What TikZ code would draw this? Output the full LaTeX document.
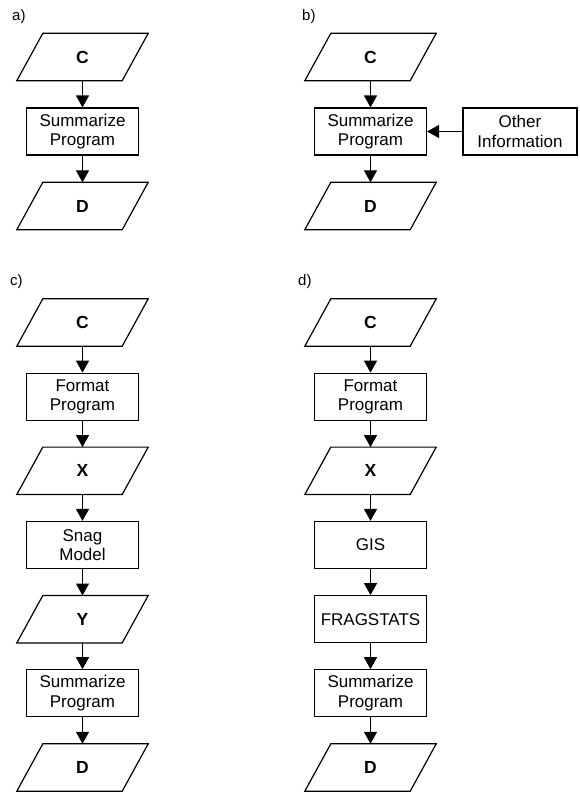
\documentclass[tikz,border=0pt]{standalone}
\usepackage{fontspec}
\setmainfont{Liberation Sans}
\usetikzlibrary{arrows.meta}

% slanted data box drawn around a named (invisible) rectangle node
\newcommand\slantbox[1]{%
  \draw[line width=1.2pt]
    ([xshift=13pt]#1.north west) -- ([xshift=13pt]#1.north east) --
    ([xshift=-13pt]#1.south east) -- ([xshift=-13pt]#1.south west) -- cycle;}

\begin{document}
\begin{tikzpicture}[x=1pt,y=-1pt,
  every node/.style={font=\fontsize{17}{19.5}\selectfont},
  procbox/.style={draw, line width=1.2pt, rectangle, minimum width=112pt,
    minimum height=47pt, align=center, inner sep=0pt},
  iobox/.style={rectangle, minimum width=105pt, minimum height=47pt,
    inner sep=0pt, font=\fontsize{17.5}{19.5}\selectfont\bfseries},
  flow/.style={line width=1.2pt, -{Triangle[width=13pt,length=12pt]}},
  panel/.style={anchor=base west, inner sep=0pt,
    font=\fontsize{15}{18}\selectfont}]
\useasboundingbox (0,0) rectangle (579,792);

% ---------- a) ----------
\node[panel] (la) at (12,20.5) {a)};
\node[iobox] (aC) at (82.5,57) {C};
\node[procbox] (aS) at (82.5,131.5) {Summarize\\Program};
\node[iobox] (aD) at (82.5,206) {D};
\slantbox{aC} \slantbox{aD}
\draw[flow] (aC) -- (aS);
\draw[flow] (aS) -- (aD);

% ---------- b) ----------
\node[panel] (lb) at (302,20.5) {b)};
\node[iobox] (bC) at (370.5,57) {C};
\node[procbox] (bS) at (370.5,131.5) {Summarize\\Program};
\node[procbox, minimum width=114pt] (bO) at (520,131.5) {Other\\Information};
\node[iobox] (bD) at (370.5,206) {D};
\slantbox{bC} \slantbox{bD}
\draw[flow] (bC) -- (bS);
\draw[flow] (bS) -- (bD);
\draw[flow] (bO) -- (bS);

% ---------- c) ----------
\node[panel] (lc) at (10,285) {c)};
\node[iobox] (cC) at (82.5,322.5) {C};
\node[procbox] (cF) at (82.5,396.7) {Format\\Program};
\node[iobox] (cX) at (82.5,470.8) {X};
\node[procbox] (cN) at (82.5,545) {Snag\\Model};
\node[iobox] (cY) at (82.5,619.2) {Y};
\node[procbox] (cS) at (82.5,693.3) {Summarize\\Program};
\node[iobox] (cD) at (82.5,767.5) {D};
\slantbox{cC} \slantbox{cX} \slantbox{cY} \slantbox{cD}
\draw[flow] (cC) -- (cF);
\draw[flow] (cF) -- (cX);
\draw[flow] (cX) -- (cN);
\draw[flow] (cN) -- (cY);
\draw[flow] (cY) -- (cS);
\draw[flow] (cS) -- (cD);

% ---------- d) ----------
\node[panel] (ld) at (298,285) {d)};
\node[iobox] (dC) at (370.5,322.5) {C};
\node[procbox] (dF) at (370.5,396.7) {Format\\Program};
\node[iobox] (dX) at (370.5,470.8) {X};
\node[procbox] (dG) at (370.5,545) {GIS};
\node[procbox] (dR) at (370.5,619.2) {FRAGSTATS};
\node[procbox] (dS) at (370.5,693.3) {Summarize\\Program};
\node[iobox] (dD) at (370.5,767.5) {D};
\slantbox{dC} \slantbox{dX} \slantbox{dD}
\draw[flow] (dC) -- (dF);
\draw[flow] (dF) -- (dX);
\draw[flow] (dX) -- (dG);
\draw[flow] (dG) -- (dR);
\draw[flow] (dR) -- (dS);
\draw[flow] (dS) -- (dD);
\end{tikzpicture}
\end{document}
